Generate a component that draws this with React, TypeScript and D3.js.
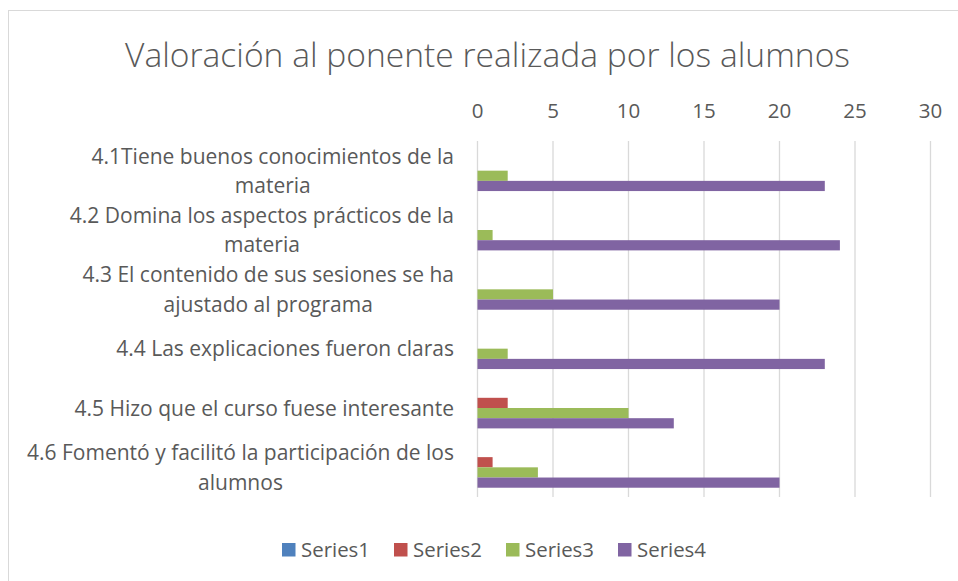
import React, { useMemo } from "react";
import * as d3 from "d3";

const title = "Valoración al ponente realizada por los alumnos";
const categories = [
  ["4.1Tiene buenos conocimientos de la", "materia"],
  ["4.2 Domina los aspectos prácticos de la", "materia"],
  ["4.3 El contenido de sus sesiones se ha", "ajustado al programa"],
  ["4.4 Las explicaciones fueron claras"],
  ["4.5 Hizo que el curso fuese interesante"],
  ["4.6 Fomentó y facilitó la participación de los", "alumnos"],
];
const seriesNames = ["Series1", "Series2", "Series3", "Series4"];
const series1 = [0, 0, 0, 0, 0, 0];
const series2 = [0, 0, 0, 0, 2, 1];
const series3 = [2, 1, 5, 2, 10, 4];
const series4 = [23, 24, 20, 23, 13, 20];
const seriesValues = [series1, series2, series3, series4];
const colors = ["#4F81BD", "#C0504D", "#9BBB59", "#8064A2"];
const ticks = [0, 5, 10, 15, 20, 25, 30];

const W = 958;
const H = 581;
const FONT = "'Open Sans', sans-serif";
const TXT = "#595959";

function measure(text: string, size: number, weight = 400) {
  const c = document.createElement("canvas");
  const ctx = c.getContext("2d")!;
  ctx.font = `${weight} ${size}px 'Open Sans'`;
  return ctx.measureText(text).width;
}

export default function App() {
  const x = d3.scaleLinear().domain([0, 30]).range([477.5, 930.5]);
  const catKeys = categories.map((_, i) => String(i));
  const gap = 1.82 / 5.82;
  const y = d3
    .scaleBand<string>()
    .domain(catKeys)
    .range([141, 497])
    .paddingInner(gap)
    .paddingOuter(gap / 2);
  const ys = d3.scaleBand<string>().domain(seriesNames).range([0, y.bandwidth()]);

  const labelSize = 21.5;
  const labelScale = useMemo(() => 427 / measure(categories[5][0], labelSize), []);
  const titleSize = 32.5;
  const titleLen = 725;
  const lineH = 29.5;
  const labelRight = 454;

  const legendX = [282, 394, 506, 618];

  return (
    <svg
      width={W}
      height={H}
      style={{ position: "absolute", left: 0, top: 0, background: "#fff" }}
      fontFamily={FONT}
    >
      <rect x={8.5} y={10.5} width={W} height={H} fill="#fff" stroke="#d9d9d9" strokeWidth={1} />
      <text
        x={487.5}
        y={67}
        textAnchor="middle"
        fontSize={titleSize}
        fontWeight={300}
        fill={TXT}
        textLength={titleLen}
        lengthAdjust="spacingAndGlyphs"
      >
        {title}
      </text>
      {ticks.map((t) => (
        <g key={t}>
          <line x1={x(t)} x2={x(t)} y1={141} y2={497} stroke="#d9d9d9" strokeWidth={1.3} />
          <text x={x(t)} y={117.5} textAnchor="middle" fontSize={20.5} fill={TXT}>
            {t}
          </text>
        </g>
      ))}
      {categories.map((lines, i) => {
        const center = (y(String(i)) as number) + y.bandwidth() / 2;
        const widths = lines.map((l) => measure(l, labelSize) * labelScale);
        const blockW = Math.max(...widths);
        const cx = labelRight - blockW / 2;
        const first = center - ((lines.length - 1) * lineH) / 2 + labelSize * 0.36;
        return (
          <text key={i} textAnchor="middle" fontSize={labelSize} fill={TXT}>
            {lines.map((l, j) => (
              <tspan
                key={j}
                x={cx}
                y={first + j * lineH}
                textLength={widths[j]}
                lengthAdjust="spacingAndGlyphs"
              >
                {l}
              </tspan>
            ))}
          </text>
        );
      })}
      {seriesValues.map((vals, s) => (
        <g key={s}>
          {vals.map((v, i) => (
            <rect
              key={i}
              x={x(0)}
              y={(y(String(i)) as number) + (ys(seriesNames[s]) as number)}
              width={x(v) - x(0)}
              height={ys.bandwidth()}
              fill={colors[s]}
            />
          ))}
        </g>
      ))}
      {seriesNames.map((n, s) => (
        <g key={n}>
          <rect x={legendX[s]} y={543} width={13.5} height={13.5} fill={colors[s]} />
          <text
            x={legendX[s] + 19}
            y={557}
            fontSize={20}
            fill={TXT}
            textLength={69}
            lengthAdjust="spacingAndGlyphs"
          >
            {n}
          </text>
        </g>
      ))}
    </svg>
  );
}
